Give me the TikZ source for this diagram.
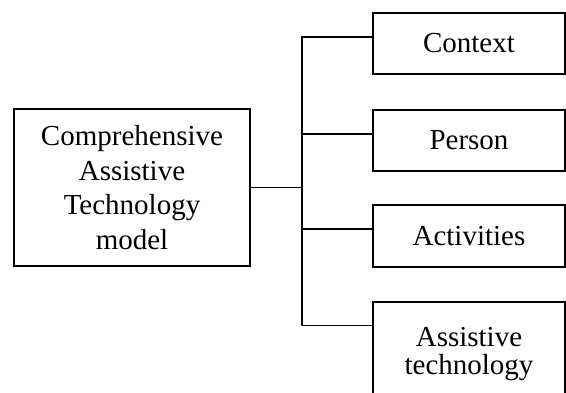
\documentclass[tikz,border=0pt]{standalone}
\usepackage{fontspec}
\setmainfont{Liberation Serif}
\usetikzlibrary{positioning}

\begin{document}
\begin{tikzpicture}[x=1pt, y=1pt, line width=1.6pt,
  box/.style={draw, align=center, inner sep=0pt, font=\fontsize{29}{34.5}\selectfont},
  leaf/.style={box, minimum width=192pt, minimum height=61pt}]
  \useasboundingbox (0,0) rectangle (566,393);
  \clip (0,0) rectangle (566,393);
  \node[box, minimum width=236pt, minimum height=157pt] (model) at (132,205.5) {Comprehensive\\Assistive\\Technology\\model};
  \node[leaf] (ctx) at (469,349.5) {Context};
  \node[leaf] (per) at (469,252.5) {Person};
  \node[leaf, minimum height=62pt] (act) at (469,157) {Activities};
  \node[leaf, minimum height=105pt, font=\fontsize{29}{28}\selectfont] (ast) at (469,38.5) {Assistive\\technology};
  \coordinate (hub) at (302,205.5);
  \draw (model.east) -- (hub);
  \foreach \n/\s in {ctx/6.5, per/6.5, act/7, ast/29}
    \draw ([yshift=\s pt]\n.west) -| (hub);
\end{tikzpicture}
\end{document}
